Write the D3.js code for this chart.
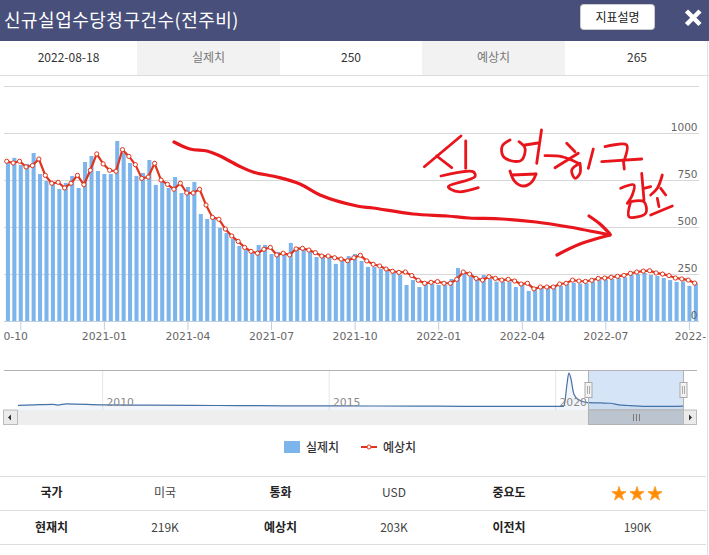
<!DOCTYPE html>
<html><head><meta charset="utf-8">
<script src="https://cdn.jsdelivr.net/npm/d3@7"></script>
<style>
html,body{margin:0;padding:0;background:#fff;overflow:hidden}
svg{display:block}
text{font-family:"Noto Sans CJK KR","Noto Sans",sans-serif}
.num{font-family:"DejaVu Sans",sans-serif}
</style></head><body>
<svg id="c" width="709" height="555"></svg>
<script>
const startDate = "2020-09-17";
const actual = [844,869,831,837,895,783,746,740,703,735,773,709,847,879,799,783,783,959,895,842,773,789,858,725,741,709,767,682,714,741,570,544,544,496,469,437,400,378,361,405,405,357,368,352,416,394,387,368,341,341,341,304,320,346,357,320,288,288,277,266,256,245,192,218,181,197,197,192,192,224,282,256,236,224,245,224,210,210,210,181,192,160,171,176,176,183,187,197,204,199,201,211,218,222,224,229,233,247,250,256,245,240,229,218,208,211,187,202];
const forecast = [851,842,851,821,828,863,776,734,739,709,734,776,726,803,890,837,803,798,913,877,833,760,767,840,751,728,702,734,682,682,702,618,552,542,490,453,424,392,371,361,382,392,352,361,352,384,387,378,364,346,346,337,330,321,337,350,320,302,293,277,265,259,261,242,217,201,206,210,201,201,222,261,250,227,218,236,227,218,222,213,197,201,171,181,181,181,197,201,218,213,211,217,227,229,233,238,243,254,261,266,268,256,250,242,229,224,218,202];
const yTicks = [0,250,500,750,1000];
const yGridExtra = [1250];
const xTickLabels = ["0-10","2021-01","2021-04","2021-07","2021-10","2022-01","2022-04","2022-07","2022-"];
const xTickIndex = [2,15,28,41,54,67,80,93,106];
const navYears = [2008.13,2008.5,2008.9,2009.0,2009.2,2010,2011,2012,2013,2014,2015,2016,2017,2018,2019,2020.17,2020.2,2020.25,2020.29,2020.33,2020.4,2020.5,2020.7,2021,2021.2,2021.4,2021.6,2022,2022.35,2022.81];
const navValues = [370,480,560,430,650,480,420,370,340,300,280,265,245,215,215,215,900,4200,6100,5300,2400,1400,850,800,750,450,350,210,190,250];
const navTicks = [2010,2015,2020];
const infoCells = ["2022-08-18","실제치","250","예상치","265"];
const tableRow1 = ["국가","미국","통화","USD","중요도"];
const tableRow2 = ["현재치","219K","예상치","203K","이전치","190K"];
const seriesNames = ["실제치","예상치"];
const title = "신규실업수당청구건수(전주비)";

const svg = d3.select("#c");
const parse = d3.utcParse("%Y-%m-%d");
const dates = actual.map((_, i) => d3.utcDay.offset(parse(startDate), i * 7));
const RED = "#e0341c", BLUE = "#7cb5ec", INK = "#e8161c";

/* header */
svg.append("rect").attr("width",709).attr("height",41).attr("fill","#474f7a");
svg.append("text").attr("x",4).attr("y",26.5).attr("fill","#fff").attr("font-size",18).attr("letter-spacing",0.5).text(title);
svg.append("rect").attr("x",580.5).attr("y",4.5).attr("width",74).attr("height",25).attr("rx",3).attr("fill","#fff").attr("stroke","#ccc");
svg.append("text").attr("x",617.5).attr("y",21.5).attr("text-anchor","middle").attr("font-size",12).attr("fill","#222").text("지표설명");
svg.append("path").attr("d","M686.5,11L700,24.5M700,11L686.5,24.5").attr("stroke","#fff").attr("stroke-width",4.5).attr("fill","none");

/* info row */
const cellEdges = [0,137,280,422,565,709];
infoCells.forEach((t,i)=>{
  if(i%2) svg.append("rect").attr("x",cellEdges[i]).attr("y",41).attr("width",cellEdges[i+1]-cellEdges[i]).attr("height",34).attr("fill","#f2f2f2");
  svg.append("text").attr("x",(cellEdges[i]+cellEdges[i+1])/2).attr("y",61.5).attr("text-anchor","middle").attr("font-size",12).attr("fill",i%2?"#777":"#333").text(t);
});
svg.append("line").attr("x1",0).attr("x2",709).attr("y1",75.5).attr("y2",75.5).attr("stroke","#ddd");

/* main plot */
const plot = {l:4,r:699,t:133.3,b:321};
const x = d3.scaleBand().domain(d3.range(actual.length)).range([4.7,699.1]).paddingInner(0.37).paddingOuter(0.185);
const y = d3.scaleLinear().domain([0,1000]).range([plot.b,plot.t]);
const lineShift = 1.2;
const cx = i => x(i)+x.bandwidth()/2;

const g = svg.append("g");
g.append("g").selectAll("line").data(yTicks.filter(d=>d>0).concat(yGridExtra)).join("line")
  .attr("x1",plot.l).attr("x2",plot.r).attr("y1",d=>Math.round(y(d))+.5).attr("y2",d=>Math.round(y(d))+.5)
  .attr("stroke","#d8d8d8");
g.append("g").selectAll("rect").data(actual).join("rect")
  .attr("x",(d,i)=>x(i)).attr("width",x.bandwidth()).attr("y",d=>y(d)).attr("height",d=>y(0)-y(d)).attr("fill",BLUE);
g.append("line").attr("x1",plot.l).attr("x2",plot.r).attr("y1",321.5).attr("y2",321.5).attr("stroke","#c0d0e0");
g.append("g").selectAll("line").data(xTickIndex).join("line")
  .attr("x1",d=>cx(d)).attr("x2",d=>cx(d)).attr("y1",321).attr("y2",330).attr("stroke","#c0d0e0");

const line = d3.line().x((d,i)=>cx(i)-lineShift).y(d=>y(d));
g.append("path").attr("d",line(forecast)).attr("fill","none").attr("stroke",RED).attr("stroke-width",2.2);
g.append("g").selectAll("circle").data(forecast).join("circle")
  .attr("cx",(d,i)=>cx(i)-lineShift).attr("cy",d=>y(d)).attr("r",2.1).attr("fill","#fff").attr("stroke",RED).attr("stroke-width",1);

/* y labels */
g.append("g").selectAll("text").data(yTicks).join("text").attr("class","num")
  .attr("x",697.5).attr("y",d=>y(d)-2.5).attr("text-anchor","end").attr("font-size",10.5).attr("fill","#666").text(d=>d);

/* x labels: the first and last show only the part the frame leaves visible */
g.append("g").selectAll("text").data(xTickLabels).join("text").attr("class","num")
  .attr("x",(d,i)=> i===0 ? 28 : i===xTickLabels.length-1 ? 674.7 : cx(xTickIndex[i]))
  .attr("text-anchor",(d,i)=> i===0 ? "end" : i===xTickLabels.length-1 ? "start" : "middle")
  .attr("y",340).attr("font-size",10.8).attr("fill","#666").text(d=>d);

/* navigator */
const nx = d3.scaleLinear().domain([2010,2020]).range([102.7,555.7]);
const ny = d3.scaleLinear().domain([0,6149]).range([407.5,372.7]);
const nav = svg.append("g");
nav.append("rect").attr("x",588.5).attr("y",371).attr("width",95).attr("height",39).attr("fill","#d5e5f7");
nav.append("g").selectAll("line").data(navTicks).join("line")
  .attr("x1",d=>nx(d)).attr("x2",d=>nx(d)).attr("y1",371).attr("y2",410).attr("stroke","#e6e6e6");
const navPts = navYears.map((yr,i)=>[yr,navValues[i]]);
nav.append("path").attr("d",d3.area().x(d=>nx(d[0])).y0(410).y1(d=>ny(d[1])).curve(d3.curveMonotoneX)(navPts)).attr("fill","#4572a7").attr("fill-opacity",0.07);
nav.append("path").attr("d",d3.line().x(d=>nx(d[0])).y(d=>ny(d[1])).curve(d3.curveMonotoneX)(navPts)).attr("fill","none").attr("stroke","#4572a7").attr("stroke-width",1.2);
nav.append("g").selectAll("text").data(navTicks).join("text").attr("class","num")
  .attr("x",d=>nx(d)+3.8).attr("y",406).attr("font-size",10.8).attr("fill","#8a8a8a").text(d=>d);
nav.append("line").attr("x1",4).attr("x2",697).attr("y1",370.5).attr("y2",370.5).attr("stroke","#b2b2b2");
nav.append("rect").attr("x",588.5).attr("y",370.5).attr("width",95).attr("height",39.5).attr("fill","none").attr("stroke","#b2b2b2");
[588.5,683.5].forEach(hx=>{
  nav.append("rect").attr("x",hx-3.5).attr("y",382.5).attr("width",7).attr("height",15).attr("fill","#f2f2f2").attr("stroke","#aaa");
  nav.append("path").attr("d",`M${hx-1},386V394M${hx+1},386V394`).attr("stroke","#aaa").attr("fill","none");
});
/* scrollbar */
nav.append("rect").attr("x",4).attr("y",410).attr("width",692).attr("height",15).attr("fill","#eee");
nav.append("rect").attr("x",588.5).attr("y",410).attr("width",95).attr("height",14.5).attr("fill","#bcc4cf").attr("stroke","#b2b2b2");
nav.append("path").attr("d","M633.5,414V421M636.5,414V421M639.5,414V421").attr("stroke","#7a7a7a").attr("fill","none");
nav.append("rect").attr("x",3.5).attr("y",410).attr("width",14).attr("height",14.5).attr("fill","#ebebeb").attr("stroke","#bbb");
nav.append("path").attr("d","M8,417.5L11,414.5V420.5Z").attr("fill","#333");
nav.append("rect").attr("x",683.5).attr("y",410).attr("width",13).attr("height",14.5).attr("fill","#ebebeb").attr("stroke","#bbb");
nav.append("path").attr("d","M692,417.5L689,414.5V420.5Z").attr("fill","#333");

/* legend */
svg.append("rect").attr("x",284).attr("y",441).attr("width",16).attr("height",12).attr("fill",BLUE);
svg.append("text").attr("x",306).attr("y",451.5).attr("font-size",12).attr("font-weight",500).attr("fill","#333").text(seriesNames[0]);
svg.append("line").attr("x1",361).attr("x2",377).attr("y1",447).attr("y2",447).attr("stroke",RED).attr("stroke-width",2);
svg.append("circle").attr("cx",369).attr("cy",447).attr("r",2).attr("fill","#fff").attr("stroke",RED);
svg.append("text").attr("x",383).attr("y",451.5).attr("font-size",12).attr("font-weight",500).attr("fill","#333").text(seriesNames[1]);

/* table */
[476.5,510.5,544.5].forEach(ly=>svg.append("line").attr("x1",0).attr("x2",706).attr("y1",ly).attr("y2",ly).attr("stroke","#ddd"));
const colX = [51.5,165,280.5,394,509,637.5];
tableRow1.forEach((t,i)=>svg.append("text").attr("x",colX[i]).attr("y",497).attr("text-anchor","middle").attr("font-size",12).attr("font-weight",i%2?400:700).attr("fill",i%2?"#444":"#222").text(t));
tableRow2.forEach((t,i)=>svg.append("text").attr("x",colX[i]).attr("y",531.5).attr("text-anchor","middle").attr("font-size",12).attr("font-weight",i%2?400:700).attr("fill",i%2?"#444":"#222").text(t));
const star = d3.symbol().type(d3.symbolStar).size(62);
[619,637,655].forEach(sx=>svg.append("path").attr("d",star()).attr("transform",`translate(${sx},494)`).attr("fill","#ff8c00").attr("stroke","#ff9d2e").attr("stroke-width",1).attr("stroke-linejoin","round"));

/* right frame */
svg.append("line").attr("x1",707.5).attr("x2",707.5).attr("y1",41).attr("y2",555).attr("stroke","#e2e2e2");

/* freehand annotation in red pen */
const pen = d3.line().curve(d3.curveCatmullRom.alpha(0.5));
const scribble = [
 [[174,142],[190,149],[207,151],[220,156],[239,166],[253,172],[277,177],[300,184],[320,195],[357,206],[373,208],[413,214],[447,216],[469,218],[502,219],[536,222],[569,227],[610,235]],
 [[589,216],[600,224],[610,234]],
 [[610,235],[580,244],[557,255]],
 [[461,136],[424.3,166.7]],[[436.7,156],[451.7,167.7]],[[465.7,141],[465.7,168.3]],
 [[441,176],[473.3,171.7],[475,176.7],[448.3,186.7],[458.3,191.7],[478.3,187.7]],
 [[510,140],[502.3,146],[503,156],[512,161],[521.7,160],[525,148.3],[519,141.7]],
 [[525,145],[538,143]],[[541.5,130],[536.7,163.3]],
 [[510,171],[515,181.7],[524,186],[532,181.7],[536,174]],[[512,175],[536,174]],
 [[545,155.7],[561.7,156.7],[578.3,163.3]],[[555,167.7],[578.3,153.3]],[[566.7,143.3],[575,151.7]],
 [[593.3,149],[588.3,168.3]],
 [[580,163.3],[571.7,170],[575,178.3],[580,173.3],[580,163.3]],
 [[605,146.7],[626.7,145],[625,158]],[[601.7,161.7],[641.7,159]],[[623.3,160],[624.3,169]],
 [[620.7,188.3],[634,185],[632.3,195],[627.3,203.3]],[[641.7,173.3],[644,200]],[[644,188.3],[650.7,186.7]],
 [[630.7,201.7],[629,216.7],[645.7,213.3],[644,201.7],[630.7,201.7]],
 [[662.3,175],[657.3,188.3],[650.7,195]],[[660.7,188.3],[665.7,195]],[[657.3,198.3],[659,206.7]],[[650.7,215],[672.3,206]]
];
svg.append("g").selectAll("path").data(scribble).join("path").attr("d",d=>pen(d))
  .attr("fill","none").attr("stroke",INK).attr("stroke-width",(d,i)=>i<3?3.2:2.8).attr("stroke-linecap","round").attr("stroke-linejoin","round");
</script>
</body></html>
